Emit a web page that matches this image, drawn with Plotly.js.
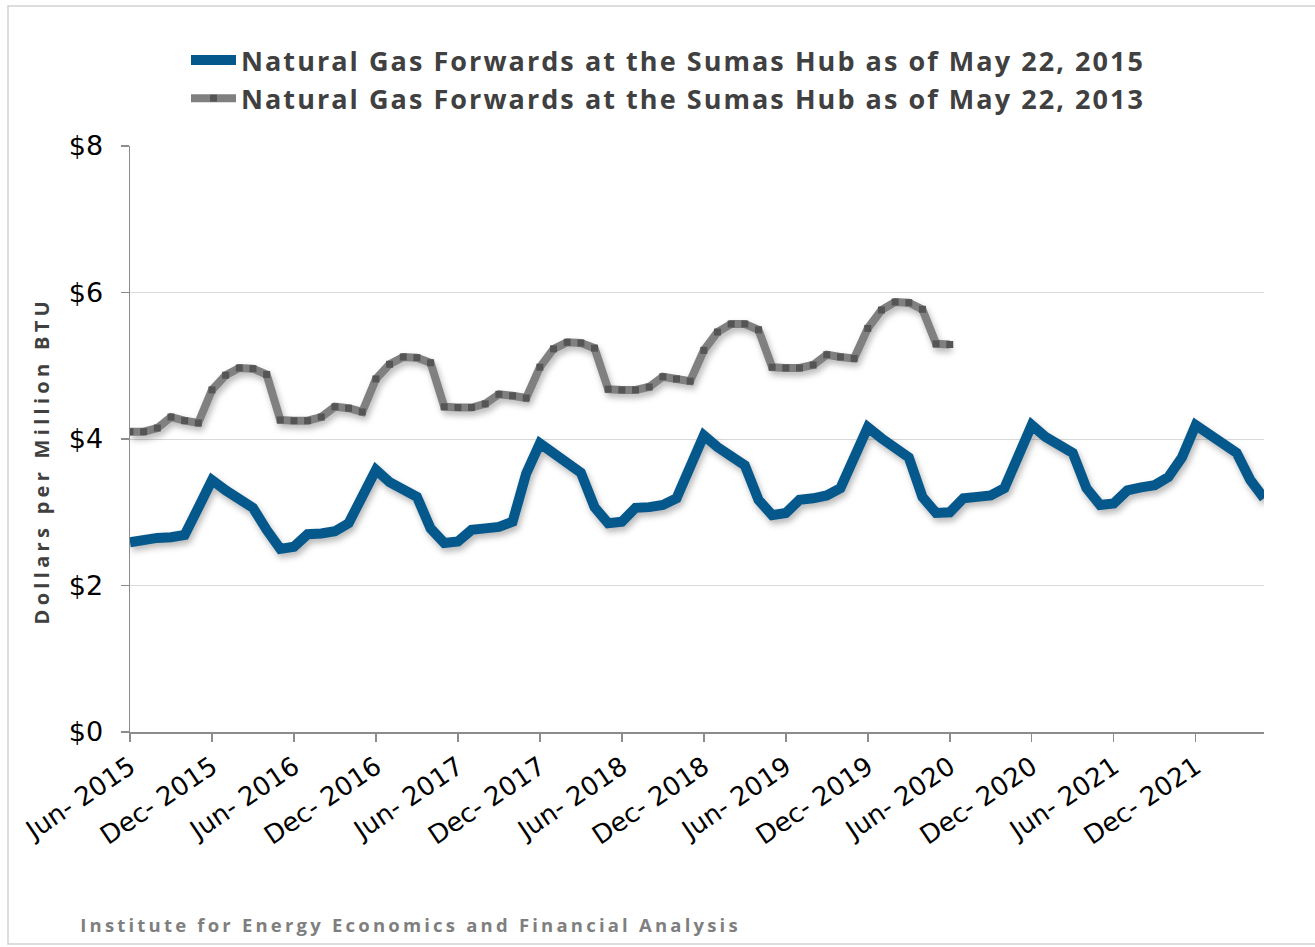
<!DOCTYPE html>
<html><head><meta charset="utf-8">
<script src="https://cdn.plot.ly/plotly-3.0.1.min.js"></script>
<style>
html,body{margin:0;padding:0;background:#fff;}
#chart{width:1315px;height:947px;}
.scatterlayer .js-line{filter: drop-shadow(2px 4px 3px rgba(0,0,0,0.28));}
.legendtext{letter-spacing:2.05px;}
g.annotation[data-index="0"] text{letter-spacing:4.3px;}
g.annotation[data-index="1"] text{letter-spacing:3.2px;}
</style></head><body><div id="chart"></div>
<script>
const months = [
 "Jun-2015","Jul-2015","Aug-2015","Sep-2015","Oct-2015","Nov-2015","Dec-2015",
 "Jan-2016","Feb-2016","Mar-2016","Apr-2016","May-2016","Jun-2016","Jul-2016","Aug-2016","Sep-2016","Oct-2016","Nov-2016","Dec-2016",
 "Jan-2017","Feb-2017","Mar-2017","Apr-2017","May-2017","Jun-2017","Jul-2017","Aug-2017","Sep-2017","Oct-2017","Nov-2017","Dec-2017",
 "Jan-2018","Feb-2018","Mar-2018","Apr-2018","May-2018","Jun-2018","Jul-2018","Aug-2018","Sep-2018","Oct-2018","Nov-2018","Dec-2018",
 "Jan-2019","Feb-2019","Mar-2019","Apr-2019","May-2019","Jun-2019","Jul-2019","Aug-2019","Sep-2019","Oct-2019","Nov-2019","Dec-2019",
 "Jan-2020","Feb-2020","Mar-2020","Apr-2020","May-2020","Jun-2020","Jul-2020","Aug-2020","Sep-2020","Oct-2020","Nov-2020","Dec-2020",
 "Jan-2021","Feb-2021","Mar-2021","Apr-2021","May-2021","Jun-2021","Jul-2021","Aug-2021","Sep-2021","Oct-2021","Nov-2021","Dec-2021",
 "Jan-2022","Feb-2022","Mar-2022","Apr-2022","May-2022"
];
const tickMonths = ["Jun-2015","Dec-2015","Jun-2016","Dec-2016","Jun-2017","Dec-2017","Jun-2018","Dec-2018","Jun-2019","Dec-2019","Jun-2020","Dec-2020","Jun-2021","Dec-2021"];
const tickLabels = ["Jun- 2015","Dec- 2015","Jun- 2016","Dec- 2016","Jun- 2017","Dec- 2017","Jun- 2018","Dec- 2018","Jun- 2019","Dec- 2019","Jun- 2020","Dec- 2020","Jun- 2021","Dec- 2021"];
const yTickVals = [0,2,4,6,8];
const yTickText = ["$0","$2","$4","$6","$8"];
const seriesNames = ["Natural Gas Forwards at the Sumas Hub as of May 22, 2015","Natural Gas Forwards at the Sumas Hub as of May 22, 2013"];
const forwards2015 = [
 2.59,2.63,2.65,2.66,2.69,3.06,3.44,
 3.30,3.17,3.06,2.76,2.50,2.53,2.70,2.71,2.74,2.85,3.22,3.58,
 3.41,3.30,3.21,2.78,2.58,2.60,2.76,2.78,2.80,2.87,3.53,3.94,
 3.81,3.67,3.54,3.07,2.85,2.87,3.06,3.07,3.10,3.19,3.62,4.05,
 3.89,3.75,3.64,3.17,2.96,2.99,3.17,3.19,3.23,3.33,3.74,4.16,
 4.01,3.89,3.75,3.21,2.99,3.00,3.19,3.21,3.23,3.33,3.77,4.19,
 4.03,3.92,3.81,3.33,3.10,3.12,3.30,3.34,3.37,3.48,3.75,4.19,
 4.05,3.94,3.81,3.44,3.19
];
const forwards2013 = [
 4.10,4.10,4.15,4.30,4.25,4.22,4.67,
 4.87,4.97,4.96,4.88,4.26,4.25,4.25,4.30,4.44,4.42,4.37,4.82,
 5.02,5.12,5.11,5.04,4.44,4.43,4.43,4.48,4.61,4.59,4.56,4.98,
 5.23,5.32,5.31,5.24,4.68,4.67,4.67,4.71,4.85,4.82,4.79,5.21,
 5.46,5.57,5.57,5.49,4.98,4.97,4.97,5.01,5.15,5.12,5.10,5.51,
 5.76,5.87,5.86,5.77,5.30,5.29
];

const traces = [
 {type:'scatter', mode:'lines', name:seriesNames[0], x:months, y:forwards2015,
  line:{color:'#05588c', width:10, shape:'linear'}},
 {type:'scatter', mode:'lines+markers', name:seriesNames[1], x:months.slice(0, forwards2013.length), y:forwards2013,
  line:{color:'#808080', width:8}, marker:{symbol:'square', size:7, color:'#555555'}}
];

const L = 130, R = 1264, T = 146, B = 732;
const px = v => (v - L) / (R - L);
const py = v => (B - v) / (B - T);

const layout = {
 width:1315, height:947,
 margin:{l:L, r:1315-R, t:T, b:947-B, pad:0},
 paper_bgcolor:'#ffffff', plot_bgcolor:'#ffffff',
 showlegend:true,
 legend:{x:px(186), y:py(36), xanchor:'left', yanchor:'top', bgcolor:'rgba(0,0,0,0)',
   font:{family:'Open Sans', size:27, color:'#404040', weight:700}, itemwidth:45, tracegroupgap:0},
 xaxis:{type:'category', categoryorder:'array', categoryarray:months, range:[0, months.length-1],
   tickvals:tickMonths, ticktext:tickLabels, tickangle:-34,
   ticks:'outside', ticklen:8, tickwidth:1.5, tickcolor:'#8c8c8c',
   showline:true, linecolor:'#8c8c8c', linewidth:1.5, showgrid:false, zeroline:false,
   tickfont:{family:'DejaVu Sans', size:26, color:'#000000'}},
 yaxis:{range:[0,8], tickvals:yTickVals, ticktext:yTickText,
   ticks:'outside', ticklen:8, tickwidth:1.5, tickcolor:'#8c8c8c', ticklabelstandoff:12,
   showline:true, linecolor:'#8c8c8c', linewidth:1.5, showgrid:true, gridcolor:'#d9d9d9', gridwidth:1,
   zeroline:false, tickfont:{family:'DejaVu Sans', size:27, color:'#000000'}},
 annotations:[
  {text:'Dollars per Million BTU', xref:'paper', yref:'paper', x:px(41), y:py(461), xanchor:'center', yanchor:'middle',
   textangle:-90, showarrow:false, font:{family:'Open Sans', size:20, color:'#404040', weight:700}},
  {text:'Institute for Energy Economics and Financial Analysis', xref:'paper', yref:'paper', x:px(410), y:py(924),
   xanchor:'center', yanchor:'middle', showarrow:false, font:{family:'Open Sans', size:18.5, color:'#7f7f7f', weight:700}}
 ],
 shapes:[
  {type:'rect', xref:'paper', yref:'paper', x0:px(8), x1:px(1400), y0:py(944), y1:py(6),
   line:{color:'#d2d2d2', width:1.5}, fillcolor:'rgba(0,0,0,0)', layer:'below'}
 ]
};

Plotly.newPlot('chart', traces, layout, {displayModeBar:false, staticPlot:true});
</script></body></html>
